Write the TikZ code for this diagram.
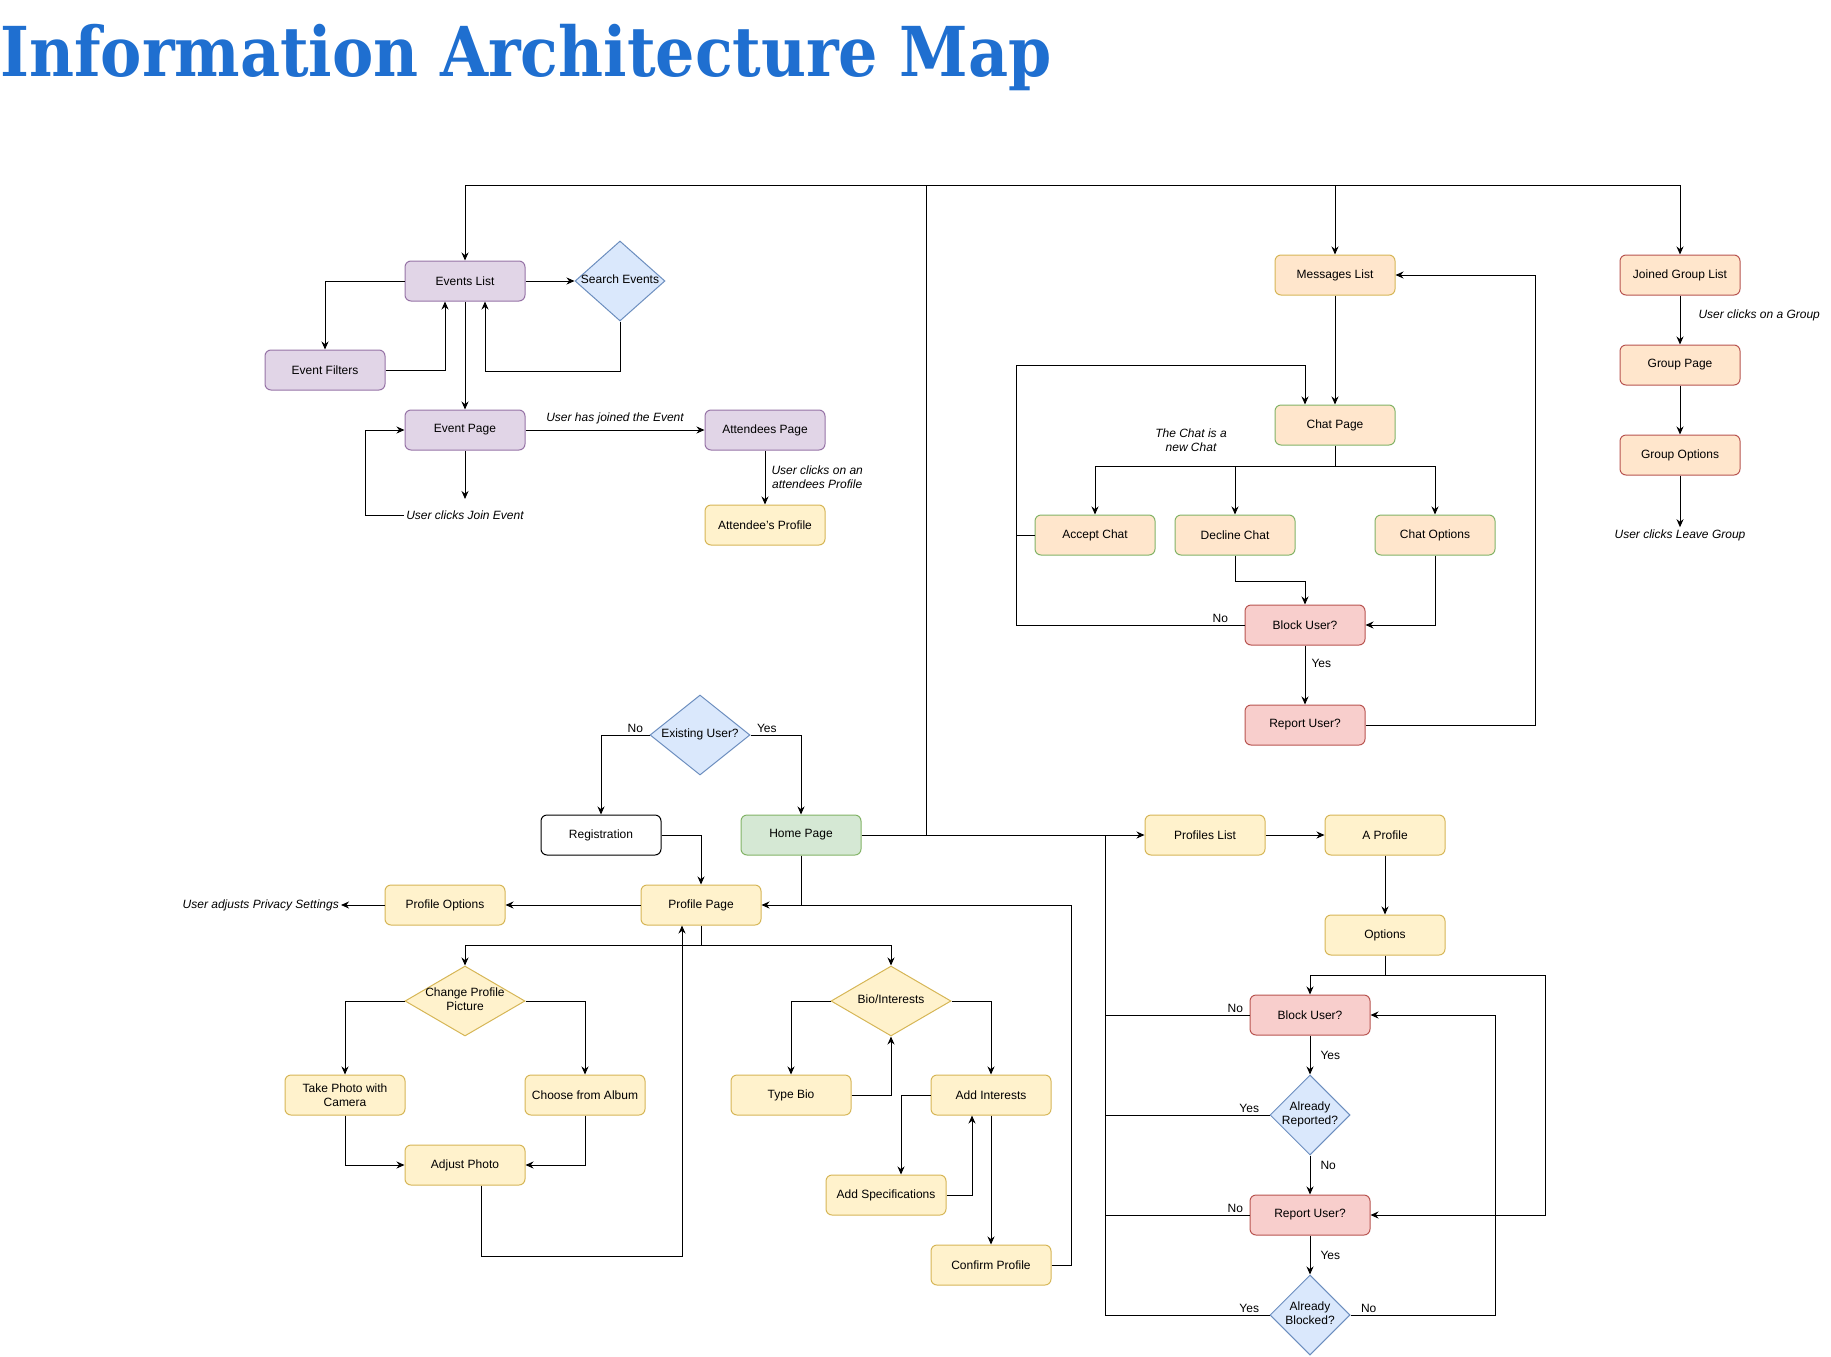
\documentclass[tikz,border=0pt]{standalone}
\usepackage{fontspec}
\setmainfont{Liberation Sans}
\newfontfamily\titlefont{DejaVu Serif Condensed}
\usetikzlibrary{arrows.meta,shapes.geometric}

\definecolor{titleblue}{HTML}{1F6FD0}
\definecolor{purplefill}{HTML}{E1D5E7}
\definecolor{purpleline}{HTML}{9673A6}
\definecolor{bluefill}{HTML}{DAE8FC}
\definecolor{blueline}{HTML}{6C8EBF}
\definecolor{yellowfill}{HTML}{FFF2CC}
\definecolor{yellowline}{HTML}{D6B656}
\definecolor{orangefill}{HTML}{FFE6CC}
\definecolor{greenfill}{HTML}{D5E8D4}
\definecolor{greenline}{HTML}{82B366}
\definecolor{redfill}{HTML}{F8CECC}
\definecolor{redline}{HTML}{B85450}

\newcommand{\boxfont}{\fontsize{12}{14}\selectfont}
\newcommand{\notefont}{\fontsize{12}{14}\selectfont\itshape}
\newcommand{\ztxt}[1]{\makebox[0pt]{\begin{tabular}{@{}c@{}}#1\end{tabular}}}

\tikzset{box/.style={draw,line width=1pt,rounded corners=6pt,minimum width=120pt,minimum height=40pt,align=center,font=\boxfont,inner sep=2pt}}
\tikzset{purplebox/.style={box,fill=purplefill,draw=purpleline}}
\tikzset{yellowbox/.style={box,fill=yellowfill,draw=yellowline}}
\tikzset{msgbox/.style={box,fill=orangefill,draw=yellowline}}
\tikzset{chatbox/.style={box,fill=orangefill,draw=greenline}}
\tikzset{groupbox/.style={box,fill=orangefill,draw=redline}}
\tikzset{redbox/.style={box,fill=redfill,draw=redline}}
\tikzset{greenbox/.style={box,fill=greenfill,draw=greenline}}
\tikzset{whitebox/.style={box,fill=white,draw=black}}
\tikzset{decision/.style={diamond,draw,line width=1pt,inner sep=0pt,font=\boxfont}}
\tikzset{bluedecision/.style={decision,fill=bluefill,draw=blueline}}
\tikzset{yellowdecision/.style={decision,fill=yellowfill,draw=yellowline}}
\tikzset{link/.style={->,>={Stealth[length=8pt,width=7pt]},line width=1pt}}
\tikzset{note/.style={font=\notefont,inner sep=2pt,align=center}}
\tikzset{lbl/.style={font=\boxfont,inner sep=2pt}}

\begin{document}
\begin{tikzpicture}[x=1pt,y=-1pt]
        \useasboundingbox (0,0) rectangle (1831,1357);
        % title
        \node[anchor=base west,inner sep=0pt,text=titleblue,font=\titlefont\bfseries\fontsize{68.8}{80}\selectfont] (title) at (0,76) {Information Architecture Map};

        % events
        \node[purplebox] (evlist) at (465,281) {Events List};
        \node[bluedecision,minimum width=90pt,minimum height=80pt] (search) at (620,281) {\ztxt{Search Events}};
        \node[purplebox] (evfilt) at (325,370) {Event Filters};
        \node[purplebox] (evpage) at (465,430) {Event Page};
        \node[purplebox] (attpage) at (765,430) {Attendees Page};
        \node[yellowbox] (attprof) at (765,525) {Attendee's Profile};
        \node[note] (join) at (465,515) {User clicks Join Event};
        \coordinate (joinend) at (465,499);
        \coordinate (joinloop) at (365,515);

        % messages and groups
        \node[msgbox] (msglist) at (1335,275) {Messages List};
        \node[chatbox] (chatpage) at (1335,425) {Chat Page};
        \node[chatbox] (accept) at (1095,535) {Accept Chat};
        \node[chatbox] (decline) at (1235,535) {Decline Chat};
        \node[chatbox] (chatopt) at (1435,535) {Chat Options};
        \node[redbox] (blockc) at (1305,625) {Block User?};
        \node[redbox] (reportc) at (1305,725) {Report User?};
        \node[note] (newchat) at (1191,440) {The Chat is a\\new Chat};
        \node[groupbox] (grplist) at (1680,275) {Joined Group List};
        \node[groupbox] (grppage) at (1680,365) {Group Page};
        \node[groupbox] (grpopt) at (1680,455) {Group Options};
        \node[note] (leave) at (1680,535) {User clicks Leave Group};

        % start and profile
        \node[bluedecision,minimum width=100pt,minimum height=80pt] (exist) at (700,735) {\ztxt{Existing User?}};
        \node[whitebox] (reg) at (601,835) {Registration};
        \node[greenbox] (home) at (801,835) {Home Page};
        \node[yellowbox] (profpage) at (701,905) {Profile Page};
        \node[yellowbox] (profopt) at (445,905) {Profile Options};
        \node[note,anchor=east] (privacy) at (341,905) {User adjusts Privacy Settings};
        \node[yellowdecision,minimum width=120pt,minimum height=70pt] (cpp) at (465,1001) {\ztxt{Change Profile\\Picture}};
        \node[yellowdecision,minimum width=120pt,minimum height=70pt] (bio) at (891,1001) {\ztxt{Bio/Interests}};
        \node[yellowbox] (photo) at (345,1095) {Take Photo with\\Camera};
        \node[yellowbox] (album) at (585,1095) {Choose from Album};
        \node[yellowbox] (adjust) at (465,1165) {Adjust Photo};
        \node[yellowbox] (typebio) at (791,1095) {Type Bio};
        \node[yellowbox] (addint) at (991,1095) {Add Interests};
        \node[yellowbox] (addspec) at (886,1195) {Add Specifications};
        \node[yellowbox] (confirm) at (991,1265) {Confirm Profile};

        % profiles
        \node[yellowbox] (proflist) at (1205,835) {Profiles List};
        \node[yellowbox] (aprof) at (1385,835) {A Profile};
        \node[yellowbox] (options) at (1385,935) {Options};
        \node[redbox] (blockp) at (1310,1015) {Block User?};
        \node[bluedecision,minimum width=80pt,minimum height=80pt] (arep) at (1310,1115) {\ztxt{Already\\Reported?}};
        \node[redbox] (reportp) at (1310,1215) {Report User?};
        \node[bluedecision,minimum width=80pt,minimum height=80pt] (ablock) at (1310,1315) {\ztxt{Already\\Blocked?}};

        % junctions
        \coordinate (hub) at (926,835);
        \coordinate (top) at (926,185);
        \coordinate (pbus) at (1105,835);
        \coordinate (cloop) at (1016,365);
        \coordinate (csplit) at (1335,466);
        \coordinate (psplit) at (701,945);
        \coordinate (osplit) at (1385,975);

        % draw the top bus from the home page
        \draw[line width=1pt] (hub) -- (top);
        \draw[link] (top) -| (evlist.north);
        \draw[link] (top) -| (grplist.north);
        \draw[link] (msglist.north |- top) -- (msglist.north);
        \draw[link] (home) -- (proflist);

        % draw the events part
        \draw[link] (evlist) -- (search);
        \draw[link] (evlist.west) -| (evfilt.north);
        \draw[link] (evfilt.east) -| ([xshift=-20pt]evlist.south);
        \draw[link] (search.south) -- ++(0,50) -| ([xshift=20pt]evlist.south);
        \draw[link] (evlist) -- (evpage);
        \draw[link] (evpage) -- (attpage) node[note,midway,above,yshift=4pt] {User has joined the Event};
        \draw[link] (evpage) -- (joinend);
        \draw[link] (join.west) -- (joinloop) |- (evpage.west);
        \draw[link] (attpage) -- (attprof) node[note,midway,right,xshift=4pt] {User clicks on an\\attendees Profile};

        % draw the groups part
        \draw[link] (grplist) -- (grppage) node[note,midway,right,xshift=16pt,yshift=5pt] {User clicks on a Group};
        \draw[link] (grppage) -- (grpopt);
        \draw[link] (grpopt) -- (leave);

        % draw the chat part
        \draw[link] (msglist) -- (chatpage);
        \draw[line width=1pt] (chatpage.south) -- (csplit);
        \draw[link] (csplit) -| (accept.north);
        \draw[link] (csplit) -| (chatopt.north);
        \draw[link] (decline.north |- csplit) -- (decline.north);
        \draw[link] (blockc.west) node[lbl,above left,xshift=-14pt] {No} -| (cloop) -| ([xshift=-30pt]chatpage.north);
        \draw[line width=1pt] (accept.west) -- (accept.west -| cloop);
        \draw[link] (decline.south) -- ++(0,26) -| (blockc.north);
        \draw[link] (chatopt.south) |- (blockc.east);
        \draw[link] (blockc) -- (reportc) node[lbl,pos=0.3,right,xshift=4pt] {Yes};
        \draw[link] (reportc.east) -- ++(170,0) |- (msglist.east);

        % draw the start and the profile page
        \draw[link] (exist.west) node[lbl,above left,xshift=-4pt] {No} -| (reg.north);
        \draw[link] (exist.east) node[lbl,above right,xshift=4pt] {Yes} -| (home.north);
        \draw[link] (reg.east) -| (profpage.north);
        \draw[line width=1pt] (home.south) -- (home.south |- profpage.east);
        \draw[link] (confirm.east) -- ++(20,0) |- (profpage.east);
        \draw[link] (profpage) -- (profopt);
        \draw[link] (profopt) -- (privacy);
        \draw[line width=1pt] (profpage.south) -- (psplit);
        \draw[link] (psplit) -| (cpp.north);
        \draw[link] (psplit) -| (bio.north);
        \draw[link] (cpp.west) -| (photo.north);
        \draw[link] (cpp.east) -| (album.north);
        \draw[link] (photo.south) |- (adjust.west);
        \draw[link] (album.south) |- (adjust.east);
        \draw[link] ([xshift=16pt]adjust.south) -- ++(0,71) -| ([xshift=-19pt]profpage.south);
        \draw[link] (bio.west) -| (typebio.north);
        \draw[link] (typebio.east) -| (bio.south);
        \draw[link] (bio.east) -| (addint.north);
        \draw[link] (addint.west) -| ([xshift=15pt]addspec.north);
        \draw[link] (addspec.east) -| ([xshift=-19pt]addint.south);
        \draw[link] (addint) -- (confirm);

        % draw the profiles part
        \draw[link] (proflist) -- (aprof);
        \draw[link] (aprof) -- (options);
        \draw[line width=1pt] (options.south) -- (osplit);
        \draw[link] (osplit) -| (blockp.north);
        \draw[link] (osplit) -- ++(160,0) |- (reportp.east);
        \draw[link] (blockp) -- (arep) node[lbl,midway,right,xshift=8pt] {Yes};
        \draw[link] (arep) -- (reportp) node[lbl,pos=0.25,right,xshift=8pt] {No};
        \draw[link] (reportp) -- (ablock) node[lbl,midway,right,xshift=8pt] {Yes};
        \draw[line width=1pt] (ablock.west) node[lbl,above left,xshift=-8pt] {Yes} -| (pbus);
        \draw[line width=1pt] (blockp.west) node[lbl,above left,xshift=-4pt] {No} -- (blockp.west -| pbus);
        \draw[line width=1pt] (arep.west) node[lbl,above left,xshift=-8pt] {Yes} -- (arep.west -| pbus);
        \draw[line width=1pt] (reportp.west) node[lbl,above left,xshift=-4pt] {No} -- (reportp.west -| pbus);
        \draw[link] (ablock.east) node[lbl,above right,xshift=8pt] {No} -- ++(145,0) |- (blockp.east);
\end{tikzpicture}
\end{document}
